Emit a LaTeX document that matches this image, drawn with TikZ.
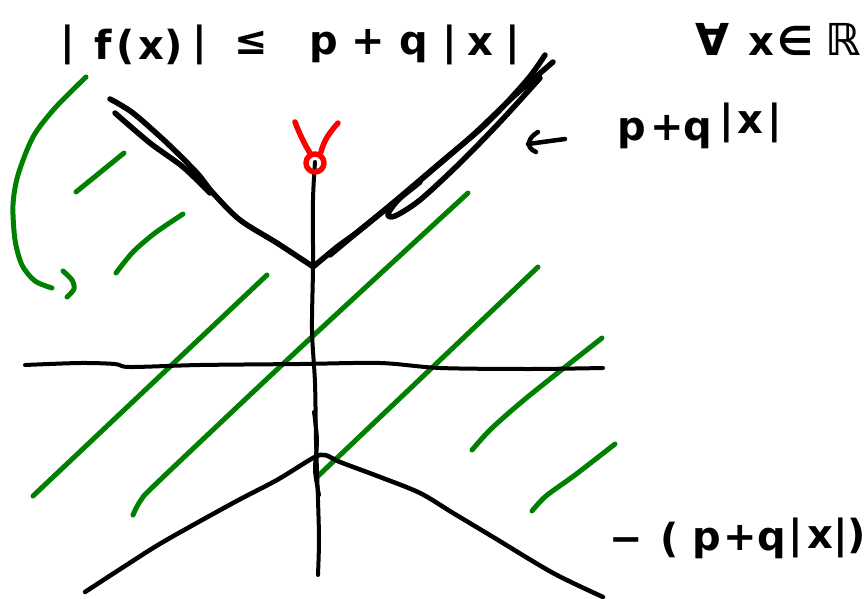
\documentclass[tikz,border=0pt]{standalone}
\usepackage{fontspec}
\setmainfont{DejaVu Sans}
\definecolor{grn}{RGB}{0,128,0}
\definecolor{rd}{RGB}{255,0,0}
\begin{document}
\begin{tikzpicture}[x=1pt,y=-1pt,
  ink/.style={line width=5.5pt,line cap=round,line join=round,black},
  axis/.style={line width=4pt,line cap=round,line join=round,black},
  hatch/.style={line width=5pt,line cap=round,line join=round,grn},
  redink/.style={line width=5.5pt,line cap=round,line join=round,rd},
  txt/.style={font=\fontsize{40}{46}\selectfont\bfseries,inner sep=0pt,anchor=base},
  bigtxt/.style={font=\fontsize{44}{50}\selectfont\bfseries,inner sep=0pt,anchor=base}]
\useasboundingbox (0,0) rectangle (867,599);
\fill[white] (0,0) rectangle (867,599);

% top formula
\node[txt] (t1) at (68,56) {|};
\node[txt] (t2) at (103,60) {f};
\node[txt] (t3) at (126,60) {(};
\node[txt] (t4) at (151,60) {x};
\node[txt] (t5) at (174,60) {)};
\node[txt] (t6) at (200,56) {|};
\node[txt] (t7) at (251,55) {≤};
\node[txt] (t8) at (324,55) {p};
\node[txt] (t9) at (368,55) {+};
\node[txt] (t10) at (414,55) {q};
\node[txt] (t11) at (450,56) {|};
\node[txt] (t12) at (480,56) {x};
\node[txt] (t13) at (513,56) {|};

% forall x in R
\node[bigtxt] (f1) at (713,56) {∀};
\node[txt] (f2) at (761,56) {x};
\node[txt] (f3) at (795,56) {∈};
\node[bigtxt] (f4) at (843,56) {ℝ};

% right label p+q|x|
\node[txt] (r1) at (632,140) {p};
\node[txt] (r2) at (667,140) {+};
\node[txt] (r3) at (698,140) {q};
\node[txt] (r4) at (727,133) {|};
\node[txt] (r5) at (750,134) {x};
\node[txt] (r6) at (775,133) {|};
\draw[ink,line width=4.5pt] (565,139) -- (528,144);
\draw[ink,line width=4.5pt] (538,132) .. controls (529,137) and (524,147) .. (536,152);

% lower label -(p+q|x|)
\node[txt] (b1) at (626,552) {−};
\node[txt] (b2) at (670,552) {(};
\node[txt] (b3) at (707,550) {p};
\node[txt] (b4) at (740,550) {+};
\node[txt] (b5) at (772,550) {q};
\node[txt] (b6) at (796,548) {|};
\node[txt] (b7) at (820,548) {x};
\node[txt] (b8) at (841,548) {|};
\node[txt] (b9) at (857,548) {)};

% green curved arrow
\draw[hatch] plot[smooth] coordinates {(86,77) (55,108) (33,137) (18,175) (13,205) (15,240) (22,265) (35,281) (52,288)};
\draw[hatch] plot[smooth] coordinates {(63,271) (72,280) (74,289) (67,297)};

% green hatching
\draw[hatch] (76,192) -- (124,153);
\draw[hatch] plot[smooth] coordinates {(116,273) (133,252) (155,233) (183,214)};
\draw[hatch] (33,496) -- (267,275);
\draw[hatch] plot[smooth] coordinates {(133,515) (141,500) (160,480) (300,348) (468,193)};
\draw[hatch] (317,477) -- (538,267);
\draw[hatch] plot[smooth] coordinates {(472,450) (492,428) (530,395) (602,338)};
\draw[hatch] plot[smooth] coordinates {(532,511) (546,496) (575,475) (615,444)};

% y axis
\draw[axis] plot[smooth] coordinates {(315,162) (313,200) (313,267) (312,330) (315,383) (316,440) (318,500) (319,540) (318,575)};
\draw[axis] plot[smooth] coordinates {(314,412) (317,440) (315,470) (319,495)};

% x axis
\draw[axis] plot[smooth] coordinates {(25,365) (80,363) (115,364) (130,367) (200,365) (300,364) (380,363) (440,368) (530,369) (603,368)};

% upper V (p+q|x|)
\draw[ink] plot[smooth] coordinates {(110,99) (133,113) (167,143) (197,173) (213,193) (240,220) (277,243) (312,266)};
\draw[ink] plot[smooth] coordinates {(115,113) (150,143) (183,167) (210,193)};
\draw[ink] plot[smooth] coordinates {(313,267) (337,247) (360,230) (400,197) (440,163) (487,123) (527,80) (545,55)};
\draw[ink] plot[smooth] coordinates {(553,62) (513,97) (473,135) (430,172) (400,198) (388,214) (395,216) (420,200) (460,163) (500,122) (540,78)};
\draw[ink] plot[smooth] coordinates {(330,255) (365,226) (420,182)};

% lower inverted V
\draw[ink,line width=4.5pt] plot[smooth] coordinates {(85,592) (125,566) (163,542) (233,503) (277,480) (313,458) (325,455) (340,462) (380,477) (420,493) (453,513) (493,537) (553,573) (603,597)};

% red y
\draw[redink] (295,122) .. controls (300,135) and (305,145) .. (310,153);
\draw[redink] (338,123) .. controls (330,132) and (324,140) .. (321,152);
\draw[redink] (315,163) circle (9);
\end{tikzpicture}
\end{document}
